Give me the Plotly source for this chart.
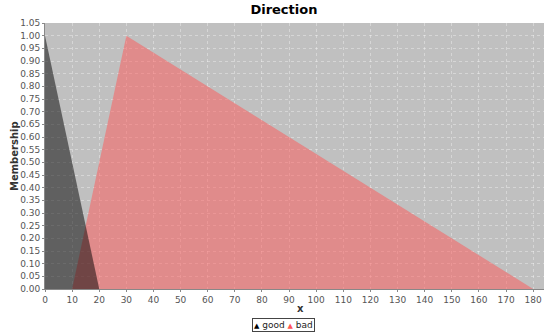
import plotly.graph_objects as go

good_x = [0, 20]
good_y = [1.0, 0.0]
bad_x = [10, 30, 180]
bad_y = [0.0, 1.0, 0.0]
x_ticks = list(range(0, 181, 10))
y_ticks = [round(i * 0.05, 2) for i in range(22)]

GOOD = "rgba(0,0,0,0.5)"
BAD = "rgba(255,85,85,0.5)"

fig = go.Figure()
fig.add_trace(go.Scatter(x=bad_x, y=bad_y, name="bad", mode="lines", fill="tozeroy",
                         line=dict(width=0, color=BAD), fillcolor=BAD))
fig.add_trace(go.Scatter(x=good_x, y=good_y, name="good", mode="lines", fill="tozeroy",
                         line=dict(width=0, color=GOOD), fillcolor=GOOD))

legend_text = ('<span style="color:black;font-size:7px">▲</span> good '
               '<span style="color:#ff5555;font-size:7px">▲</span> bad')
fig.add_annotation(text=legend_text, xref="paper", yref="paper", x=0.478, y=-0.108,
                   xanchor="center", yanchor="top", showarrow=False,
                   font=dict(family="DejaVu Sans", size=9, color="#222222"),
                   bordercolor="#444444", borderwidth=1, borderpad=1, bgcolor="white")
# axis titles
title_font = dict(family="DejaVu Sans", size=10, color="#333333")
fig.add_annotation(text="<b>Membership</b>", xref="paper", yref="paper", x=-0.062, y=0.5,
                   xanchor="center", yanchor="middle", textangle=-90, showarrow=False,
                   font=title_font)
fig.add_annotation(text="<b>x</b>", xref="paper", yref="paper", x=0.513, y=-0.075,
                   xanchor="center", yanchor="middle", showarrow=False, font=title_font)

axis_font = dict(family="DejaVu Sans", size=9, color="#555555")
fig.update_layout(
    width=546, height=334,
    margin=dict(l=45, r=2, t=23, b=45, autoexpand=False),
    paper_bgcolor="white", plot_bgcolor="#c0c0c0",
    title=dict(text="<b>Direction</b>", x=0.52, xanchor="center", y=0.985, yanchor="top",
               font=dict(family="DejaVu Sans", size=13, color="black")),
    showlegend=False,
    xaxis=dict(range=[0, 184], tickvals=x_ticks, tickfont=axis_font, automargin=False,
               showgrid=True, gridcolor="rgba(255,255,255,0.35)", griddash="dot", gridwidth=1,
               zeroline=False, showline=True, linecolor="#888888", linewidth=1,
               ticks="outside", ticklen=2, tickcolor="#888888"),
    yaxis=dict(range=[0, 1.05], tickvals=y_ticks, tickformat=".2f", tickfont=axis_font, automargin=False,
               showgrid=True, gridcolor="rgba(255,255,255,0.35)", griddash="dot", gridwidth=1,
               zeroline=False, showline=True, linecolor="#888888", linewidth=1,
               ticks="outside", ticklen=2, tickcolor="#888888"),
)
fig.write_html("out.html", config={"displayModeBar": False},
               post_script="document.body.style.margin='0';")
